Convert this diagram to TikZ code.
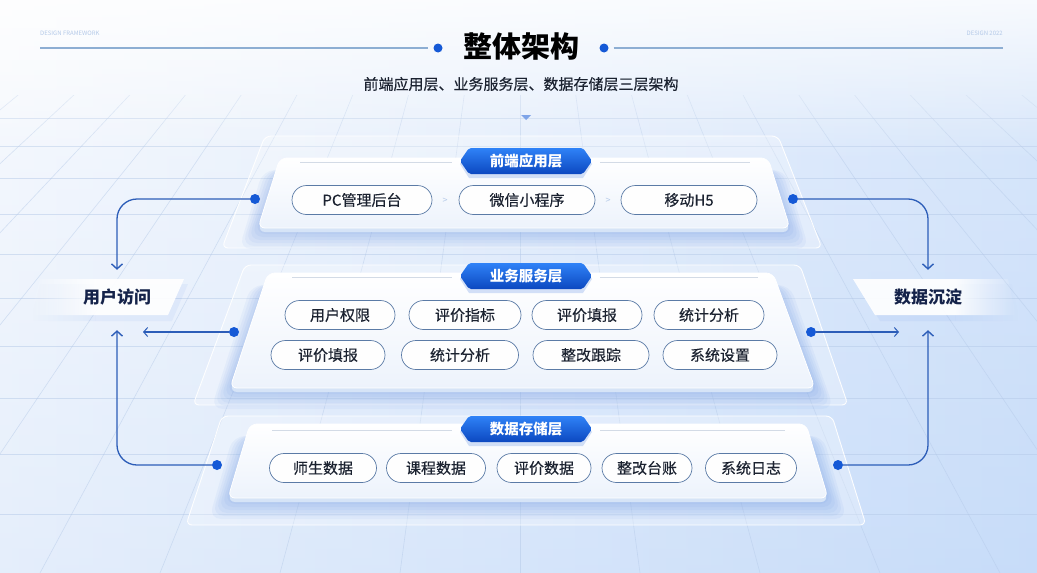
\documentclass[tikz,border=0pt]{standalone}
\usepackage{fontspec}
\setmainfont{Noto Sans CJK SC}
\newfontfamily\medfont[FakeBold=0.35]{Noto Sans CJK SC}
\usetikzlibrary{arrows.meta,calc,fadings}
\definecolor{dotblue}{HTML}{1559D6}
\definecolor{lineblue}{HTML}{2C5DB8}
\definecolor{pillborder}{HTML}{5B7BA6}
\definecolor{txt}{HTML}{1B2230}
\definecolor{navy}{HTML}{15234A}
\definecolor{bgA}{HTML}{F5F8FD}
\definecolor{bgB}{HTML}{C7DCF9}
\definecolor{gridc}{HTML}{B4C9E8}
\definecolor{badgeA}{HTML}{2F82F7}
\definecolor{badgeB}{HTML}{0C48C0}
\definecolor{slabedge}{HTML}{D6E4F7}
\definecolor{panelbot}{HTML}{EDF3FC}
\definecolor{sepline}{HTML}{D3DBE6}
\definecolor{headline}{HTML}{8DAED3}
\tikzset{
  grid/.style={draw=gridc, line width=0.6pt, opacity=0.5},
  outerpanel/.style={fill=white, fill opacity=0.28, draw=white, draw opacity=0.95, line width=0.9pt, rounded corners=6pt},
  glow/.style={fill=dotblue, opacity=0.045, rounded corners=12pt},
  slab/.style={fill=slabedge, rounded corners=7pt},
  innerpanel/.style={top color=white, bottom color=panelbot, draw=white, line width=0.8pt, rounded corners=7pt},
  pill/.style={draw=pillborder, line width=0.7pt, rounded corners=14.5pt, minimum height=29pt, fill=white, fill opacity=0.95, text opacity=1, text=txt, font=\medfont\fontsize{15}{17}\selectfont, inner sep=0pt},
  badgetext/.style={text=white, font=\bfseries\fontsize{14.5}{16}\selectfont, inner sep=0pt},
  dotn/.style={circle, fill=dotblue, inner sep=0pt, minimum size=10pt},
  conn/.style={draw=lineblue, line width=1.3pt, rounded corners=20pt},
  bigtip/.style={-{Straight Barb[length=5pt,width=11pt,line width=1.4pt]}},
  smalltip/.style={-{Straight Barb[length=4pt,width=9pt,line width=1pt]}},
  sidelabel/.style={text=navy, font=\bfseries\fontsize{17}{19}\selectfont, minimum width=120pt, minimum height=36pt, inner sep=0pt},
  chev/.style={text=gridc, font=\fontsize{9}{10}\selectfont, inner sep=0pt},
  sep/.style={draw=sepline, line width=0.8pt}
}
\newcommand\mybadge[4]{%
  \fill[dotblue, opacity=0.18] (#2-66,#3+3) -- (#2-57,#3-10) -- (#2+57,#3-10) -- (#2+66,#3+3) -- (#2+57,#3+17) -- (#2-57,#3+17) -- cycle;
  \shade[top color=badgeA, bottom color=badgeB, rounded corners=2pt] (#2-66,#3) -- (#2-57,#3-13) -- (#2+57,#3-13) -- (#2+66,#3) -- (#2+57,#3+13) -- (#2-57,#3+13) -- cycle;
  \node[badgetext] (#1) at (#2,#3) {#4};
}
\begin{document}
\begin{tikzpicture}[x=1pt,y=-1pt]
\useasboundingbox (0,0) rectangle (1037,573);
% background
\shade[left color=bgA, right color=bgB] (0,0) rectangle (1037,573);
\shade[top color=white, bottom color=bgB, opacity=0.35] (0,0) rectangle (1037,573);
\begin{scope}
  \clip (0,95) rectangle (1037,573);
  \foreach \yy in {118,146,178,214,254,298,346,398,454,514} \draw[grid] (0,\yy) -- (1037,\yy);
  \foreach \xx in {-800,-680,...,1840} \draw[grid] (520,-320) -- (\xx,573);
\end{scope}
\fill[white, path fading=south, opacity=0.8] (0,0) rectangle (1037,160);

% header
\node[anchor=west, text=gridc, font=\fontsize{6}{7}\selectfont, inner sep=0pt] (hdl) at (40,33) {DESIGN FRAMEWORK};
\node[anchor=east, text=gridc, font=\fontsize{6}{7}\selectfont, inner sep=0pt] (hdr) at (1003,33) {DESIGN 2022};
\node[dotn, minimum size=9pt] (hd1) at (438,48) {};
\node[dotn, minimum size=9pt] (hd2) at (604,48) {};
\coordinate (hl) at (40,48);
\coordinate (hr) at (1003,48);
\draw[draw=headline, line width=1.2pt] (hl) -- ([xshift=-5pt]hd1.west);
\draw[draw=headline, line width=1.2pt] ([xshift=5pt]hd2.east) -- (hr);
\node[font=\bfseries\fontsize{29}{31}\selectfont, text=black, inner sep=0pt] (title) at (521,47) {整体架构};
\node[font=\medfont\fontsize{15}{17}\selectfont, text=txt, inner sep=0pt] (sub) at (521,84) {前端应用层、业务服务层、数据存储层三层架构};
\fill[color=dotblue!55] (521,115) -- (531,115) -- (526,120) -- cycle;

% ===== layer 1
\path[outerpanel] (265,136) -- (778,136) -- (822,248) -- (222,248) -- cycle;
\foreach \e in {2,5,...,17} \path[glow] (280-\e,170) -- (768+\e,170) -- (792+\e,232+\e) -- (256-\e,232+\e) -- cycle;
\path[slab] (280,162) -- (768,162) -- (790,232) -- (258,232) -- cycle;
\path[innerpanel] (280,158) -- (768,158) -- (790,228) -- (258,228) -- cycle;
\draw[sep] (300,162) -- (452,162);
\draw[sep] (600,162) -- (750,162);
\mybadge{b1}{526}{161}{前端应用层}
\node[pill, minimum width=140pt] (p11) at (362,200) {PC管理后台};
\node[pill, minimum width=136pt] (p12) at (527,200) {微信小程序};
\node[pill, minimum width=136pt] (p13) at (689,200) {移动H5};
\node[chev] (c11) at (445,201) {>};
\node[chev] (c12) at (608,201) {>};

% ===== layer 2
\path[outerpanel] (245,265) -- (800,265) -- (848,405) -- (193,405) -- cycle;
\foreach \e in {2,5,...,17} \path[glow] (268-\e,285) -- (773+\e,285) -- (817+\e,392+\e) -- (228-\e,392+\e) -- cycle;
\path[slab] (268,277) -- (773,277) -- (815,392) -- (230,392) -- cycle;
\path[innerpanel] (268,273) -- (773,273) -- (815,388) -- (230,388) -- cycle;
\draw[sep] (292,277) -- (452,277);
\draw[sep] (600,277) -- (758,277);
\mybadge{b2}{526}{276}{业务服务层}
\node[pill, minimum width=110pt] (p21) at (340,315) {用户权限};
\node[pill, minimum width=112pt] (p22) at (465,315) {评价指标};
\node[pill, minimum width=110pt] (p23) at (587,315) {评价填报};
\node[pill, minimum width=110pt] (p24) at (709,315) {统计分析};
\node[pill, minimum width=114pt] (p25) at (328,355) {评价填报};
\node[pill, minimum width=117pt] (p26) at (460,355) {统计分析};
\node[pill, minimum width=116pt] (p27) at (591,355) {整改跟踪};
\node[pill, minimum width=114pt] (p28) at (720,355) {系统设置};

% ===== layer 3
\path[outerpanel] (222,416) -- (832,416) -- (866,525) -- (186,525) -- cycle;
\foreach \e in {2,5,...,17} \path[glow] (250-\e,436) -- (806+\e,436) -- (830+\e,502+\e) -- (226-\e,502+\e) -- cycle;
\path[slab] (250,428) -- (806,428) -- (828,502) -- (228,502) -- cycle;
\path[innerpanel] (250,424) -- (806,424) -- (828,498) -- (228,498) -- cycle;
\draw[sep] (272,430) -- (452,430);
\draw[sep] (600,430) -- (785,430);
\mybadge{b3}{526}{429}{数据存储层}
\node[pill, minimum width=107pt] (p31) at (323,468) {师生数据};
\node[pill, minimum width=99pt] (p32) at (436,468) {课程数据};
\node[pill, minimum width=94pt] (p33) at (544,468) {评价数据};
\node[pill, minimum width=90pt] (p34) at (647,468) {整改台账};
\node[pill, minimum width=91pt] (p35) at (751,468) {系统日志};

% ===== side labels
\fill[dotblue, opacity=0.05] (95,284) -- (188,284) -- (172,321) -- (95,321) -- cycle;
\fill[dotblue, opacity=0.05, path fading=west] (40,284) -- (95,284) -- (95,321) -- (30,321) -- cycle;
\fill[white, opacity=0.92, path fading=west] (40,279) -- (95,279) -- (95,315) -- (30,315) -- cycle;
\fill[white, opacity=0.92] (95,279) -- (184,279) -- (168,315) -- (95,315) -- cycle;
\node[sidelabel] (user) at (117,297) {用户访问};
\fill[dotblue, opacity=0.05] (858,284) -- (955,284) -- (955,321) -- (880,321) -- cycle;
\fill[dotblue, opacity=0.05, path fading=east] (955,284) -- (1012,284) -- (1020,321) -- (955,321) -- cycle;
\fill[white, opacity=0.92] (853,279) -- (955,279) -- (955,315) -- (875,315) -- cycle;
\fill[white, opacity=0.92, path fading=east] (955,279) -- (1008,279) -- (1016,315) -- (955,315) -- cycle;
\node[sidelabel] (data) at (928,297) {数据沉淀};

% ===== dots
\node[dotn] (dL1) at (255,199) {};
\node[dotn] (dR1) at (793,199) {};
\node[dotn] (dL2) at (234,332) {};
\node[dotn] (dR2) at (811,332) {};
\node[dotn] (dL3) at (217,465) {};
\node[dotn] (dR3) at (838,465) {};
\coordinate (uMid) at (143,332);
\coordinate (dMid) at (899,332);

% ===== connectors
\draw[conn, bigtip] (dL1) -| ([yshift=9pt]user.north);
\draw[conn, bigtip] (dL3) -| ([yshift=-15pt]user.south);
\draw[conn, smalltip, line width=1.1pt] (dL2) -- (uMid);
\draw[conn, bigtip] (dR1) -| ([yshift=9pt]data.north);
\draw[conn, bigtip] (dR3) -| ([yshift=-15pt]data.south);
\draw[conn, smalltip, line width=1.1pt] (dR2) -- (dMid);
\end{tikzpicture}
\end{document}
